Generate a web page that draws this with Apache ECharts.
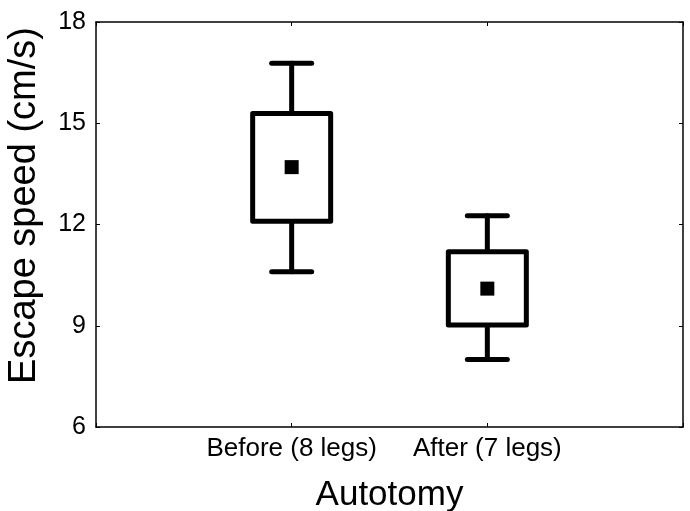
<!DOCTYPE html>
<html>
<head>
<meta charset="utf-8">
<style>
  html, body { margin: 0; padding: 0; background: #fff; }
  #chart { width: 690px; height: 511px; }
</style>
<script src="https://cdn.jsdelivr.net/npm/echarts@6/dist/echarts.min.js"></script>
</head>
<body>
<div id="chart"></div>
<script>
  // 类别（两端空位用于把两个箱子放在三等分点上）
  const categories = ['', 'Before (8 legs)', 'After (7 legs)', '']
  const groupIndex = [1, 2]
  const whiskerLow = [10.6, 8.0]
  const boxLow = [12.1, 9.02]
  const means = [13.7, 10.1]
  const boxHigh = [15.29, 11.19]
  const whiskerHigh = [16.78, 12.26]
  const yTicks = [6, 9, 12, 15, 18]

  const boxData = groupIndex.map((g, i) => [g, whiskerLow[i], boxLow[i], means[i], boxHigh[i], whiskerHigh[i]])

  const chart = echarts.init(document.getElementById('chart'))
  const font = 'Liberation Sans, Arial, sans-serif'

  function renderBox(params, api) {
    const x = api.value(0)
    const pLow = api.coord([x, api.value(1)])
    const pQ1 = api.coord([x, api.value(2)])
    const pMean = api.coord([x, api.value(3)])
    const pQ3 = api.coord([x, api.value(4)])
    const pHigh = api.coord([x, api.value(5)])
    const cx = pMean[0]
    const halfBox = 39
    const halfCap = 20
    const sq = 14
    const lineStyle = { stroke: '#000', lineWidth: 5, fill: null, lineCap: 'round', lineJoin: 'round' }
    return {
      type: 'group',
      children: [
        { type: 'line', shape: { x1: cx, y1: pHigh[1], x2: cx, y2: pQ3[1] }, style: lineStyle },
        { type: 'line', shape: { x1: cx, y1: pQ1[1], x2: cx, y2: pLow[1] }, style: lineStyle },
        { type: 'line', shape: { x1: cx - halfCap, y1: pHigh[1], x2: cx + halfCap, y2: pHigh[1] }, style: lineStyle },
        { type: 'line', shape: { x1: cx - halfCap, y1: pLow[1], x2: cx + halfCap, y2: pLow[1] }, style: lineStyle },
        { type: 'rect', shape: { x: cx - halfBox, y: pQ3[1], width: halfBox * 2, height: pQ1[1] - pQ3[1] },
          style: { stroke: '#000', lineWidth: 5, fill: '#fff', lineJoin: 'round' } },
        { type: 'rect', shape: { x: cx - sq / 2, y: pMean[1] - sq / 2, width: sq, height: sq }, style: { fill: '#000' } }
      ]
    }
  }

  const option = {
    animation: false,
    backgroundColor: '#fff',
    grid: { left: 96, right: 7, top: 22, bottom: 84, containLabel: false, outerBoundsMode: 'none' },
    xAxis: [
      {
        type: 'category',
        data: categories,
        boundaryGap: false,
        position: 'bottom',
        name: 'Autotomy',
        nameLocation: 'middle',
        nameGap: 51,
        nameTextStyle: { fontFamily: font, fontSize: 35, color: '#000' },
        axisLine: { show: true, lineStyle: { color: '#000', width: 1.5 } },
        axisTick: { show: true, inside: true, length: 4, interval: 0, lineStyle: { color: '#000' } },
        axisLabel: { interval: 0, margin: 9, fontFamily: font, fontSize: 26, color: '#000' },
        splitLine: { show: false }
      },
      {
        type: 'category',
        data: categories,
        boundaryGap: false,
        position: 'top',
        axisLine: { show: true, lineStyle: { color: '#000', width: 1.5 } },
        axisTick: { show: true, inside: true, length: 4, interval: 0, lineStyle: { color: '#000' } },
        axisLabel: { show: false },
        splitLine: { show: false }
      }
    ],
    yAxis: [
      {
        type: 'value',
        min: yTicks[0],
        max: yTicks[yTicks.length - 1],
        interval: 3,
        position: 'left',
        name: 'Escape speed (cm/s)',
        nameLocation: 'middle',
        nameGap: 52,
        nameTextStyle: { fontFamily: font, fontSize: 38, color: '#000', padding: [0, 0, 0, 38] },
        axisLine: { show: true, lineStyle: { color: '#000', width: 1.5 } },
        axisTick: { show: true, inside: true, length: 4, lineStyle: { color: '#000' } },
        axisLabel: { margin: 10, fontFamily: font, fontSize: 25, color: '#000' },
        splitLine: { show: false }
      },
      {
        type: 'value',
        min: yTicks[0],
        max: yTicks[yTicks.length - 1],
        interval: 3,
        position: 'right',
        axisLine: { show: true, lineStyle: { color: '#000', width: 1.5 } },
        axisTick: { show: true, inside: true, length: 4, lineStyle: { color: '#000' } },
        axisLabel: { show: false },
        splitLine: { show: false }
      }
    ],
    series: [
      {
        type: 'custom',
        xAxisIndex: 0,
        yAxisIndex: 0,
        renderItem: renderBox,
        encode: { x: 0, y: [1, 2, 3, 4, 5] },
        data: boxData,
        clip: false
      }
    ]
  }

  chart.setOption(option)
  window.addEventListener('resize', function () {
    chart.resize()
  })
</script>
</body>
</html>
